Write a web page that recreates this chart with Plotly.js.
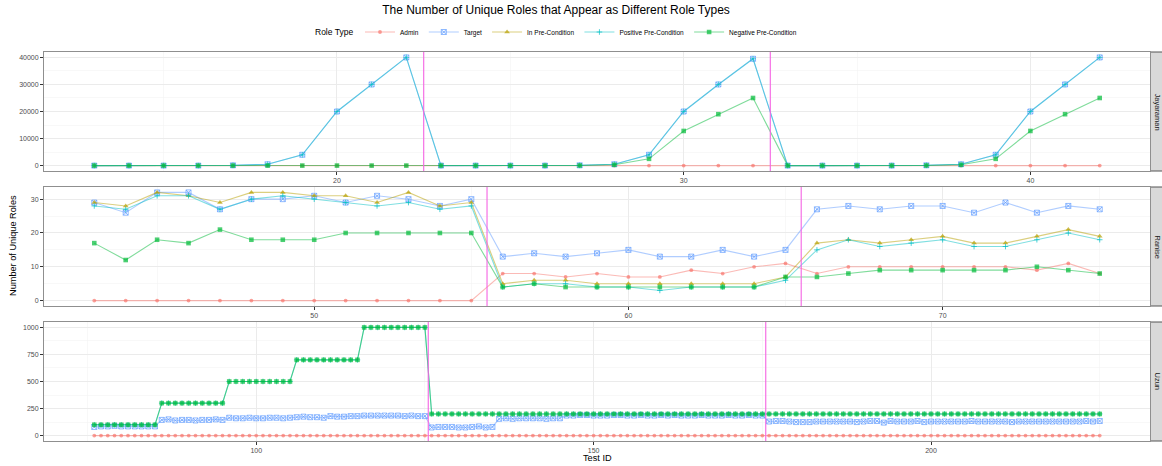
<!DOCTYPE html>
<html><head><meta charset="utf-8">
<script src="https://cdn.plot.ly/plotly-3.0.1.min.js"></script>
<style>html,body{margin:0;padding:0;background:#fff}#chart{width:1162px;height:466px}</style>
</head><body><div id="chart"></div>
<script>
// ---------------- DATA ----------------
const roleTypes = ["Admin", "Target", "In Pre-Condition", "Positive Pre-Condition", "Negative Pre-Condition"];
const panelNames = ["Jayaraman", "Ranise", "Uzun"];
const legendTitle = "Role Type";

// Jayaraman (no In Pre-Condition values)
const jayTestIds = [13,14,15,16,17,18,19,20,21,22,23,24,25,26,27,28,29,30,31,32,33,34,35,36,37,38,39,40,41,42];
const jayAdmin    = [0,0,0,0,0,0,0,0,0,0, 0,0,0,0,0,0,0,0,0,0, 0,0,0,0,0,0,0,0,0,0];
const jayTarget   = [0,0,0,0,100,500,4000,20000,30000,40000, 0,0,0,0,100,500,4000,20000,30000,39500, 0,0,0,0,100,500,4000,20000,30000,40000];
const jayInPre    = [];
const jayPosPre   = [0,0,0,0,100,500,4000,20000,30000,40000, 0,0,0,0,100,500,4000,20000,30000,39500, 0,0,0,0,100,500,4000,20000,30000,40000];
const jayNegPre   = [0,0,0,0,0,0,0,0,0,0, 0,0,0,0,50,300,2500,12800,19000,25000, 0,0,0,0,50,300,2500,12800,19000,25000];
const jayChanges  = [22.5, 32.5];

// Ranise
const ranTestIds = [43,44,45,46,47,48,49,50,51,52,53,54,55,56,57,58,59,60,61,62,63,64,65,66,67,68,69,70,71,72,73,74,75];
const ranAdmin   = [0,0,0,0,0,0,0,0,0,0,0,0,0, 8,8,7,8,7,7,9,8,10,11, 8,10,10,10,10,10,10,9,11,8];
const ranTarget  = [29,26,32,32,27,30,30,31,29,31,30,28,30, 13,14,13,14,15,13,13,15,13,15, 27,28,27,28,28,26,29,26,28,27];
const ranInPre   = [29,28,32,31,29,32,32,31,31,29,32,28,29, 5,6,6,5,5,5,5,5,5,7, 17,18,17,18,19,17,17,19,21,19];
const ranPosPre  = [28,27,31,31,27,30,31,30,29,28,29,27,28, 4,5,5,4,4,3,4,4,4,6, 15,18,16,17,18,16,16,18,20,18];
const ranNegPre  = [17,12,18,17,21,18,18,18,20,20,20,20,20, 4,5,4,4,4,4,4,4,4,7, 7,8,9,9,9,9,9,10,9,8];
const ranChanges = [55.5, 65.5];

// Uzun (no In Pre-Condition values)
const uzuTestIds = [
  76,77,78,79,80,81,82,83,84,85,86,87,88,89,90,91,92,93,94,95,
  96,97,98,99,100,101,102,103,104,105,106,107,108,109,110,111,112,113,114,115,
  116,117,118,119,120,121,122,123,124,125,126,127,128,129,130,131,132,133,134,135,
  136,137,138,139,140,141,142,143,144,145,146,147,148,149,150,151,152,153,154,155,
  156,157,158,159,160,161,162,163,164,165,166,167,168,169,170,171,172,173,174,175,
  176,177,178,179,180,181,182,183,184,185,186,187,188,189,190,191,192,193,194,195,
  196,197,198,199,200,201,202,203,204,205,206,207,208,209,210,211,212,213,214,215,
  216,217,218,219,220,221,222,223,224,225];
const uzuAdmin = [
  0,0,0,0,0,0,0,0,0,0,0,0,0,0,0,0,0,0,0,0,
  0,0,0,0,0,0,0,0,0,0,0,0,0,0,0,0,0,0,0,0,
  0,0,0,0,0,0,0,0,0,0,0,0,0,0,0,0,0,0,0,0,
  0,0,0,0,0,0,0,0,0,0,0,0,0,0,0,0,0,0,0,0,
  0,0,0,0,0,0,0,0,0,0,0,0,0,0,0,0,0,0,0,0,
  0,0,0,0,0,0,0,0,0,0,0,0,0,0,0,0,0,0,0,0,
  0,0,0,0,0,0,0,0,0,0,0,0,0,0,0,0,0,0,0,0,
  0,0,0,0,0,0,0,0,0,0];
const uzuTarget = [
  80,85,85,90,85,85,85,85,85,85, 145,150,140,145,145,140,145,145,150,145,
  165,160,160,165,160,160,165,165,160,165, 170,175,170,170,165,180,175,175,180,180,
  185,185,185,185,185,185,180,185,180,180, 75,80,80,80,75,75,80,85,75,80,
  155,160,155,160,160,160,160,155,160,160, 185,185,190,190,185,185,185,190,190,185,
  185,190,185,185,190,185,190,185,185,185, 190,185,185,185,190,185,185,190,185,185,
  130,135,135,130,125,125,125,130,130,130, 130,130,130,125,130,135,135,120,135,130,
  130,130,135,125,130,130,130,130,130,130, 135,130,130,130,130,130,125,130,130,130,
  130,130,130,130,130,130,130,135,130,135];
const uzuInPre = [];
const uzuPosPre = [
  100,100,100,100,100,100,100,100,100,100, 300,300,300,300,300,300,300,300,300,300,
  500,500,500,500,500,500,500,500,500,500, 700,700,700,700,700,700,700,700,700,700,
  1000,1000,1000,1000,1000,1000,1000,1000,1000,1000, 200,200,200,200,200,200,200,200,200,200,
  200,200,200,200,200,200,200,200,200,200, 200,200,200,200,200,200,200,200,200,200,
  200,200,200,200,200,200,200,200,200,200, 200,200,200,200,200,200,200,200,200,200,
  200,200,200,200,200,200,200,200,200,200, 200,200,200,200,200,200,200,200,200,200,
  200,200,200,200,200,200,200,200,200,200, 200,200,200,200,200,200,200,200,200,200,
  200,200,200,200,200,200,200,200,200,200];
const uzuNegPre = [
  100,100,100,100,100,100,100,100,100,100, 300,300,300,300,300,300,300,300,300,300,
  500,500,500,500,500,500,500,500,500,500, 700,700,700,700,700,700,700,700,700,700,
  1000,1000,1000,1000,1000,1000,1000,1000,1000,1000, 200,200,200,200,200,200,200,200,200,200,
  200,200,200,200,200,200,200,200,200,200, 200,200,200,200,200,200,200,200,200,200,
  200,200,200,200,200,200,200,200,200,200, 200,200,200,200,200,200,200,200,200,200,
  200,200,200,200,200,200,200,200,200,200, 200,200,200,200,200,200,200,200,200,200,
  200,200,200,200,200,200,200,200,200,200, 200,200,200,200,200,200,200,200,200,200,
  200,200,200,200,200,200,200,200,200,200];
const uzuChanges = [125.5, 175.5];

// ---------------- STYLE ----------------
const W = 1162, H = 466;
const roleColors = ["248,118,109", "97,156,255", "183,159,0", "0,191,196", "0,186,56"];
const roleSymbols = ["circle", "square-x-open", "triangle-up", "cross-thin-open", "square"];
const roleSizes = [3.8, 5, 5, 4, 4.6];
const roleOutline = [0, 1, 0, 1, 0];

const panels = [
  {x: jayTestIds, series: [jayAdmin, jayTarget, jayInPre, jayPosPre, jayNegPre], changes: jayChanges, xdtick: 10, ydtick: 10000},
  {x: ranTestIds, series: [ranAdmin, ranTarget, ranInPre, ranPosPre, ranNegPre], changes: ranChanges, xdtick: 10, ydtick: 10},
  {x: uzuTestIds, series: [uzuAdmin, uzuTarget, uzuInPre, uzuPosPre, uzuNegPre], changes: uzuChanges, xdtick: 50, ydtick: 250}
];

const plotLeft = 44, plotRight = 1150, centerX = 556;
const legendLeft = 360, legendTitleRight = 355;
const panelBoxes = [[52, 171], [187, 306], [322, 441]];
const px = v => v / W, py = v => 1 - v / H;

const traces = [], shapes = [], annotations = [];
const layout = {
  width: W, height: H,
  margin: {l: 0, r: 0, t: 0, b: 0},
  paper_bgcolor: "#fff", plot_bgcolor: "#fff",
  font: {family: "Liberation Sans, Arial, sans-serif", color: "#000"},
  title: {text: "The Number of Unique Roles that Appear as Different Role Types",
          font: {size: 12, color: "#000"}, x: px(centerX), xanchor: "center",
          y: py(10), yanchor: "middle", xref: "paper", yref: "paper"},
  legend: {orientation: "h", x: px(legendLeft), xanchor: "left", y: py(32), yanchor: "middle",
           font: {size: 6.5, color: "#000"},
           itemwidth: 30, tracegroupgap: 0, bgcolor: "rgba(0,0,0,0)", valign: "middle"},
  shapes: shapes, annotations: annotations, showlegend: true
};

panels.forEach((p, i) => {
  const xa = i === 0 ? "x" : "x" + (i + 1);
  const ya = i === 0 ? "y" : "y" + (i + 1);
  const xk = i === 0 ? "xaxis" : "xaxis" + (i + 1);
  const yk = i === 0 ? "yaxis" : "yaxis" + (i + 1);
  const xmin = Math.min(...p.x), xmax = Math.max(...p.x);
  let ymin = Infinity, ymax = -Infinity;
  p.series.forEach(s => s.forEach(v => { if (v < ymin) ymin = v; if (v > ymax) ymax = v; }));
  const xpad = (xmax - xmin) * 0.05, ypad = (ymax - ymin) * 0.05;
  const [top, bot] = panelBoxes[i];
  const common = {
    showline: true, mirror: true, linecolor: "#8f8f8f", linewidth: 1,
    showgrid: true, gridcolor: "#EBEBEB", gridwidth: 1, zeroline: false,
    ticks: "outside", ticklen: 3, tickcolor: "#333", tickwidth: 1,
    tickfont: {size: 7, color: "#4D4D4D"}, fixedrange: true, tickformat: "d"
  };
  layout[xk] = Object.assign({}, common, {
    domain: [px(plotLeft), px(plotRight)], anchor: ya,
    range: [xmin - xpad, xmax + xpad], tick0: 0, dtick: p.xdtick,
    minor: {showgrid: true, gridcolor: "#F4F4F4", gridwidth: 0.6, dtick: p.xdtick / 2, tick0: 0, ticks: ""}
  });
  layout[yk] = Object.assign({}, common, {
    domain: [py(bot), py(top)], anchor: xa,
    range: [ymin - ypad, ymax + ypad], tick0: 0, dtick: p.ydtick,
    minor: {showgrid: true, gridcolor: "#F4F4F4", gridwidth: 0.6, dtick: p.ydtick / 2, tick0: 0, ticks: ""}
  });

  p.series.forEach((s, k) => {
    if (!s.length) return;
    traces.push({
      type: "scatter", mode: "lines+markers", x: p.x, y: s, xaxis: xa, yaxis: ya,
      name: roleTypes[k], legendgroup: roleTypes[k], showlegend: i === 1, legendrank: k,
      line: {color: "rgba(" + roleColors[k] + ",0.5)", width: 1.1},
      marker: {symbol: roleSymbols[k], size: roleSizes[k], color: "rgba(" + roleColors[k] + ",0.7)",
               line: {color: "rgba(" + roleColors[k] + ",0.7)", width: roleOutline[k]}},
      hoverinfo: "skip"
    });
  });

  p.changes.forEach(c => {
    shapes.push({type: "line", xref: xa, yref: ya + " domain", x0: c, x1: c, y0: 0, y1: 1,
                 line: {color: "rgba(245,100,227,0.85)", width: 1.3}, layer: "above"});
  });

  shapes.push({type: "rect", xref: "paper", yref: "paper", x0: px(plotRight + 0.5), x1: px(1170),
               y0: py(bot), y1: py(top), fillcolor: "#D9D9D9", line: {color: "#555", width: 1}, layer: "below"});
  annotations.push({text: panelNames[i], xref: "paper", yref: "paper", x: px(1157), y: py((top + bot) / 2),
                    textangle: 90, showarrow: false, font: {size: 7.5, color: "#1A1A1A"}, xanchor: "center", yanchor: "middle"});
});

annotations.push({text: legendTitle, xref: "paper", yref: "paper", x: px(legendTitleRight), y: py(32),
                  showarrow: false, font: {size: 8.5, color: "#000"}, xanchor: "right", yanchor: "middle"});
annotations.push({text: "Number of Unique Roles", xref: "paper", yref: "paper", x: px(13), y: py(246),
                  textangle: -90, showarrow: false, font: {size: 9.2, color: "#000"}, xanchor: "center", yanchor: "middle"});
annotations.push({text: "Test ID", xref: "paper", yref: "paper", x: px((plotLeft + plotRight) / 2), y: py(458),
                  showarrow: false, font: {size: 9.2, color: "#000"}, xanchor: "center", yanchor: "middle"});

Plotly.newPlot("chart", traces, layout, {staticPlot: true, displayModeBar: false});
</script>
</body></html>
